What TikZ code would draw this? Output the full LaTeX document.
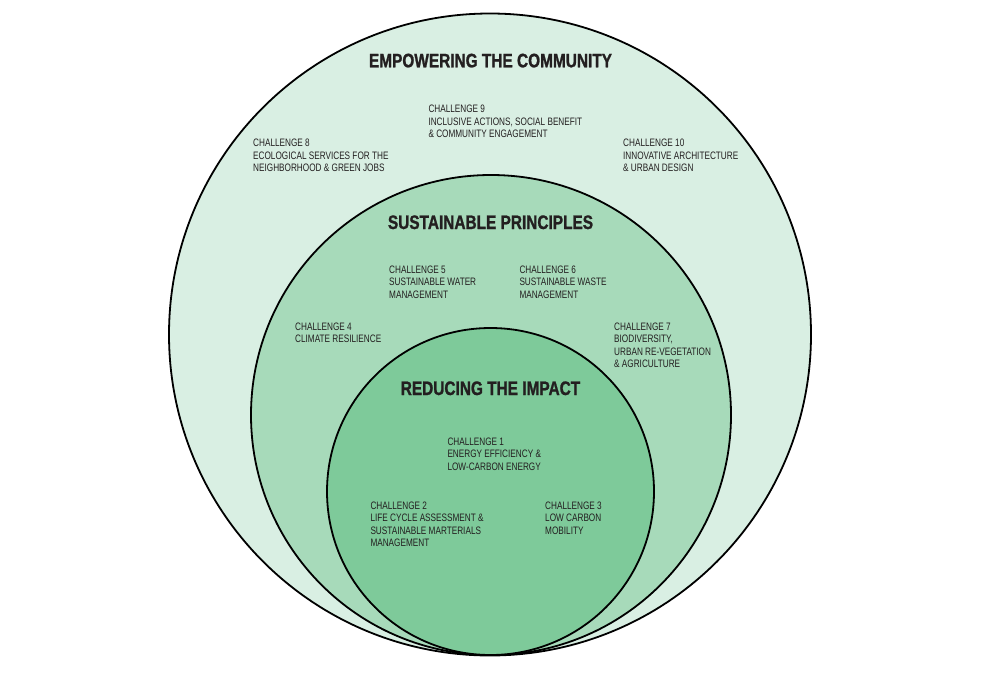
\documentclass[tikz,border=0pt]{standalone}
\usepackage{fontspec}
\setmainfont{Liberation Sans}[FakeStretch=0.76]
\newfontfamily\titlefam{Liberation Sans}[FakeStretch=0.79, FakeBold=1.2]
\definecolor{outerfill}{RGB}{217,239,227}
\definecolor{midfill}{RGB}{167,218,186}
\definecolor{innerfill}{RGB}{126,202,154}
\definecolor{txt}{RGB}{35,31,32}
\newcommand\chtext[1]{\begin{tabular}[t]{@{}l@{}}#1\end{tabular}}
\tikzset{
  ring/.style={draw=black, line width=1.8pt},
  chal/.style={anchor=base west, inner sep=0pt, text=txt,
    font=\fontsize{10.8}{12.6}\selectfont},
  ttl/.style={anchor=base, inner sep=0pt, text=txt,
    font=\titlefam\bfseries\fontsize{19.5}{22}\selectfont}
}
\begin{document}
\begin{tikzpicture}[x=1pt,y=-1pt]
\useasboundingbox (0,0) rectangle (1000,672);
\fill[white] (0,0) rectangle (1000,672);
% rings
\coordinate (co) at (490,334.5);
\coordinate (cm) at (491,415);
\coordinate (ci) at (490.5,491.5);
\fill[outerfill, ring] (co) circle[radius=321pt];
\fill[midfill, ring] (cm) circle[radius=240pt];
\fill[innerfill, ring] (ci) circle[radius=163.5pt];
% titles
\node[ttl] (t1) at (490.5,67.3) {EMPOWERING THE COMMUNITY};
\node[ttl] (t2) at (490.5,229) {SUSTAINABLE PRINCIPLES};
\node[ttl] (t3) at (490.5,395) {REDUCING THE IMPACT};
% challenges
\node[chal] (c9) at (428.3,112.7) {\chtext{CHALLENGE 9\\INCLUSIVE ACTIONS, SOCIAL BENEFIT\\\& COMMUNITY ENGAGEMENT}};
\node[chal] (c8) at (253,146.7) {\chtext{CHALLENGE 8\\ECOLOGICAL SERVICES FOR THE\\NEIGHBORHOOD \& GREEN JOBS}};
\node[chal] (c10) at (623,146.7) {\chtext{CHALLENGE 10\\INNOVATIVE ARCHITECTURE\\\& URBAN DESIGN}};
\node[chal] (c5) at (389,273.3) {\chtext{CHALLENGE 5\\SUSTAINABLE WATER\\MANAGEMENT}};
\node[chal] (c6) at (519.3,273.3) {\chtext{CHALLENGE 6\\SUSTAINABLE WASTE\\MANAGEMENT}};
\node[chal] (c4) at (295,330) {\chtext{CHALLENGE 4\\CLIMATE RESILIENCE}};
\node[chal] (c7) at (614,330) {\chtext{CHALLENGE 7\\BIODIVERSITY,\\URBAN RE-VEGETATION\\\& AGRICULTURE}};
\node[chal] (c1) at (447.3,445) {\chtext{CHALLENGE 1\\ENERGY EFFICIENCY \&\\LOW-CARBON ENERGY}};
\node[chal] (c2) at (370.3,509) {\chtext{CHALLENGE 2\\LIFE CYCLE ASSESSMENT \&\\SUSTAINABLE MARTERIALS\\MANAGEMENT}};
\node[chal] (c3) at (545,509) {\chtext{CHALLENGE 3\\LOW CARBON\\MOBILITY}};
\end{tikzpicture}
\end{document}
